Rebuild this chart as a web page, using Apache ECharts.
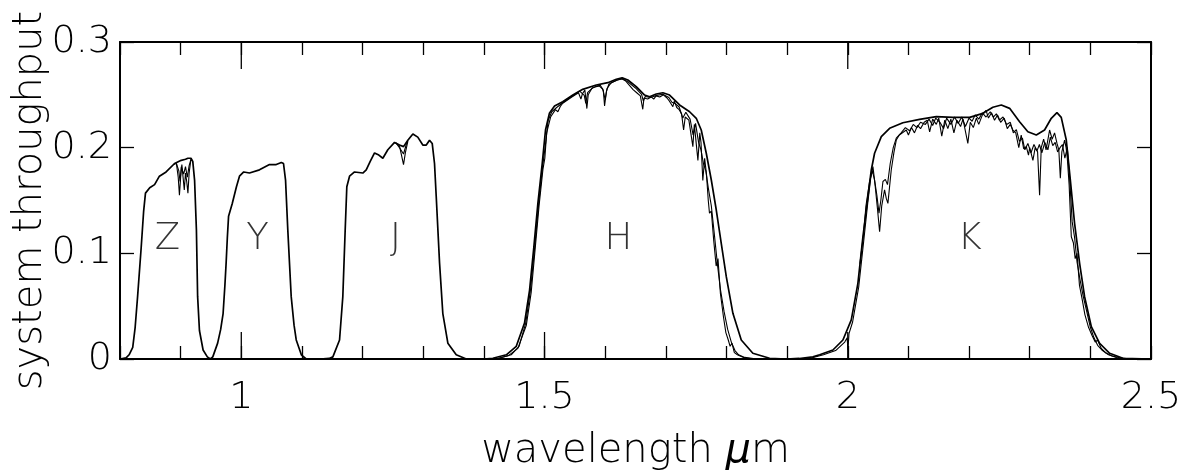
<!DOCTYPE html>
<html>
<head>
<meta charset="utf-8">
<script src="https://cdn.jsdelivr.net/npm/echarts@6/dist/echarts.min.js"></script>
<style>html,body{margin:0;padding:0;background:#fff}#c{width:1190px;height:470px}</style>
</head>
<body>
<div id="c"></div>
<script>
// ---- data (wavelength in micron, system throughput) ----
const smoothCurve = [
[0.80,0],[0.81,0.001],[0.815,0.004],[0.821,0.011],[0.825,0.03],[0.829,0.059],[0.835,0.106],[0.839,0.14],[0.842,0.157],[0.849,0.162],[0.857,0.165],[0.865,0.173],[0.876,0.177],[0.890,0.185],[0.901,0.188],[0.908,0.189],[0.912,0.190],[0.917,0.190],[0.920,0.187],[0.923,0.169],[0.926,0.122],[0.928,0.059],[0.931,0.027],[0.937,0.0085],[0.944,0.002],[0.949,0.0],
[0.953,0.002],[0.961,0.015],[0.966,0.028],[0.970,0.043],[0.973,0.07],[0.975,0.091],[0.977,0.115],[0.979,0.135],[0.985,0.147],[0.992,0.163],[0.997,0.173],[1.004,0.177],[1.0135,0.176],[1.030,0.179],[1.0465,0.184],[1.0576,0.184],[1.066,0.186],[1.0696,0.185],[1.073,0.169],[1.0767,0.122],[1.0823,0.059],[1.087,0.032],[1.0906,0.018],[1.099,0.004],[1.107,0.0],
[1.13,0.0],[1.145,0.0005],[1.151,0.002],[1.162,0.018],[1.1674,0.059],[1.1713,0.122],[1.174,0.163],[1.1785,0.173],[1.1867,0.177],[1.2004,0.176],[1.206,0.179],[1.2126,0.187],[1.2197,0.195],[1.2268,0.193],[1.2334,0.190],[1.2416,0.198],[1.2527,0.205],[1.2609,0.2025],[1.2675,0.201],[1.2746,0.207],[1.2829,0.213],[1.291,0.210],[1.2993,0.2025],[1.305,0.2025],[1.3104,0.207],[1.3148,0.204],[1.3186,0.185],[1.3214,0.154],[1.3269,0.091],[1.3323,0.043],[1.3406,0.015],[1.3544,0.004],[1.371,0.0],
[1.40,0.0],[1.4148,0.0007],[1.437,0.004],[1.4534,0.012],[1.467,0.034],[1.4753,0.065],[1.4824,0.106],[1.489,0.147],[1.4962,0.185],[1.5017,0.217],[1.508,0.2325],[1.5165,0.2394],[1.530,0.2435],[1.5467,0.2498],[1.563,0.2552],[1.5853,0.2593],[1.6044,0.2615],[1.6183,0.2647],[1.628,0.2662],[1.6374,0.264],[1.6512,0.2577],[1.665,0.2498],[1.6732,0.2482],[1.6842,0.2508],[1.6951,0.252],[1.7062,0.2498],[1.7227,0.2404],[1.7392,0.234],[1.7502,0.2278],[1.7584,0.2167],[1.7667,0.1947],[1.775,0.1694],[1.7832,0.141],[1.7914,0.1095],[1.7997,0.0779],[1.8106,0.0432],[1.8244,0.018],[1.8435,0.0054],[1.8711,0.0007],[1.8986,0.0],
[1.92,0.0005],[1.9425,0.002],[1.9536,0.004],[1.9755,0.0085],[1.992,0.018],[2.0058,0.037],[2.0167,0.0716],[2.025,0.1157],[2.0332,0.1536],[2.0388,0.1789],[2.0442,0.1947],[2.0553,0.2104],[2.069,0.2183],[2.0909,0.2236],[2.1184,0.2268],[2.146,0.2293],[2.1734,0.2287],[2.2009,0.2287],[2.2228,0.2325],[2.2393,0.2382],[2.2532,0.2404],[2.2669,0.2372],[2.2833,0.2246],[2.297,0.2151],[2.3109,0.212],[2.3245,0.2167],[2.3356,0.2278],[2.3449,0.2331],[2.352,0.2287],[2.3603,0.2072],[2.367,0.1694],[2.374,0.1284],[2.3823,0.0906],[2.3905,0.059],[2.4016,0.0306],[2.4153,0.0149],[2.4318,0.0054],[2.4537,0.0007],[2.50,0.0]
];

const noisyA_Z = [[0.888,0.184],[0.893,0.185],[0.896,0.172],[0.898,0.155],[0.900,0.172],[0.902,0.184],[0.904,0.172],[0.906,0.160],[0.908,0.176],[0.910,0.168],[0.912,0.157],[0.914,0.176],[0.917,0.189],[0.920,0.187]];
const noisyB_Z = [[0.893,0.185],[0.897,0.178],[0.899,0.168],[0.901,0.182],[0.905,0.175],[0.908,0.182],[0.911,0.172],[0.914,0.183],[0.917,0.189]];
const noisyA_J = [[1.255,0.2045],[1.2609,0.2015],[1.2645,0.192],[1.2675,0.184],[1.2705,0.195],[1.2746,0.206]];
const noisyB_J = [[1.255,0.2045],[1.262,0.199],[1.2675,0.194],[1.272,0.203],[1.2746,0.206]];

const noisyA_H = [
[1.42,0.0],[1.44,0.003],[1.456,0.010],[1.47,0.032],[1.478,0.063],[1.4845,0.104],[1.491,0.145],[1.4975,0.18],[1.5005,0.19],[1.5035,0.214],[1.510,0.229],[1.518,0.236],[1.522,0.234],[1.526,0.239],[1.530,0.242],[1.545,0.248],[1.556,0.252],[1.560,0.246],[1.5625,0.251],[1.5665,0.2545],[1.5698,0.237],[1.572,0.250],[1.578,0.256],[1.585,0.258],[1.592,0.259],[1.597,0.254],[1.599,0.2394],[1.602,0.253],[1.606,0.260],[1.612,0.262],[1.620,0.264],[1.628,0.265],[1.634,0.263],[1.640,0.259],[1.646,0.255],[1.652,0.252],[1.658,0.249],[1.662,0.2363],[1.664,0.247],[1.670,0.246],[1.676,0.248],[1.680,0.246],[1.684,0.249],[1.690,0.248],[1.696,0.250],[1.702,0.247],[1.706,0.244],[1.7116,0.2388],[1.714,0.244],[1.718,0.238],[1.722,0.236],[1.726,0.232],[1.7293,0.2167],[1.732,0.229],[1.738,0.226],[1.7446,0.201],[1.747,0.222],[1.7529,0.188],[1.756,0.214],[1.758,0.205],[1.761,0.169],[1.764,0.19],[1.767,0.175],[1.770,0.15],[1.772,0.138],[1.775,0.14],[1.779,0.112],[1.783,0.088],[1.786,0.095],[1.790,0.062],[1.795,0.04],[1.799,0.025],[1.803,0.018],[1.806,0.012],[1.809,0.015],[1.813,0.006],[1.818,0.004],[1.83,0.001],[1.85,0]
];
const noisyB_H = [
[1.42,0.0],[1.445,0.004],[1.458,0.012],[1.469,0.034],[1.477,0.066],[1.484,0.107],[1.4905,0.148],[1.497,0.183],[1.502,0.205],[1.506,0.226],[1.512,0.234],[1.52,0.238],[1.53,0.2425],[1.545,0.2485],[1.558,0.2535],[1.5655,0.2495],[1.568,0.242],[1.571,0.252],[1.580,0.257],[1.59,0.2585],[1.596,0.2555],[1.6,0.2455],[1.603,0.256],[1.61,0.2615],[1.62,0.264],[1.628,0.2655],[1.637,0.2625],[1.65,0.2565],[1.66,0.2505],[1.663,0.244],[1.666,0.2485],[1.675,0.2475],[1.685,0.2495],[1.695,0.2505],[1.705,0.2475],[1.71,0.243],[1.716,0.2415],[1.722,0.2385],[1.728,0.228],[1.733,0.2335],[1.74,0.227],[1.745,0.212],[1.749,0.223],[1.754,0.205],[1.758,0.198],[1.762,0.185],[1.766,0.178],[1.77,0.162],[1.775,0.145],[1.78,0.118],[1.785,0.09],[1.79,0.066],[1.796,0.045],[1.802,0.028],[1.808,0.016],[1.814,0.008],[1.82,0.004],[1.83,0.0015],[1.85,0]
];

const noisyA_K = [
[1.94,0.001],[1.96,0.004],[1.98,0.008],[1.995,0.016],[1.999,0.02],[2.0003,0.0085],[2.002,0.024],[2.008,0.035],[2.018,0.068],[2.026,0.11],[2.033,0.148],[2.038,0.172],[2.0415,0.182],[2.045,0.165],[2.049,0.142],[2.0525,0.1205],[2.056,0.145],[2.0607,0.16],[2.0635,0.152],[2.0662,0.1473],[2.0717,0.1789],[2.076,0.195],[2.08,0.2072],[2.085,0.212],[2.0965,0.2167],[2.1,0.212],[2.105,0.219],[2.11,0.214],[2.115,0.221],[2.12,0.218],[2.126,0.224],[2.131,0.226],[2.135,0.215],[2.14,0.227],[2.146,0.222],[2.15,0.228],[2.155,0.211],[2.16,0.226],[2.165,0.218],[2.17,0.227],[2.175,0.214],[2.18,0.226],[2.186,0.22],[2.19,0.227],[2.198,0.2041],[2.202,0.224],[2.207,0.219],[2.212,0.228],[2.216,0.222],[2.222,0.231],[2.228,0.2353],[2.232,0.228],[2.237,0.233],[2.242,0.226],[2.247,0.231],[2.252,0.224],[2.258,0.228],[2.263,0.218],[2.268,0.222],[2.2723,0.2167],[2.277,0.214],[2.282,0.2],[2.286,0.212],[2.29,0.199],[2.2944,0.201],[2.298,0.193],[2.3,0.2],[2.3053,0.188],[2.309,0.2],[2.313,0.196],[2.3163,0.155],[2.319,0.2],[2.323,0.208],[2.327,0.198],[2.3328,0.2167],[2.337,0.208],[2.341,0.214],[2.345,0.204],[2.348,0.198],[2.3505,0.171],[2.353,0.196],[2.3575,0.2072],[2.36,0.2],[2.362,0.19],[2.365,0.165],[2.3686,0.1157],[2.372,0.11],[2.375,0.095],[2.378,0.1],[2.382,0.07],[2.386,0.058],[2.391,0.042],[2.397,0.03],[2.403,0.022],[2.408,0.016],[2.412,0.018],[2.418,0.01],[2.425,0.006],[2.435,0.003],[2.45,0.001],[2.47,0]
];
const noisyB_K = [
[2.02,0.09],[2.026,0.118],[2.03,0.145],[2.036,0.168],[2.0405,0.178],[2.044,0.17],[2.048,0.155],[2.0515,0.138],[2.0545,0.15],[2.058,0.168],[2.062,0.17],[2.0655,0.165],[2.07,0.185],[2.075,0.2],[2.08,0.209],[2.088,0.214],[2.095,0.219],[2.102,0.216],[2.108,0.222],[2.114,0.219],[2.12,0.224],[2.128,0.222],[2.134,0.227],[2.14,0.221],[2.145,0.228],[2.152,0.224],[2.158,0.218],[2.163,0.228],[2.17,0.222],[2.176,0.229],[2.182,0.223],[2.188,0.229],[2.194,0.22],[2.2,0.228],[2.205,0.225],[2.21,0.231],[2.216,0.227],[2.222,0.233],[2.228,0.229],[2.235,0.234],[2.24,0.229],[2.245,0.232],[2.25,0.226],[2.256,0.229],[2.262,0.222],[2.268,0.224],[2.273,0.214],[2.278,0.217],[2.283,0.206],[2.288,0.209],[2.292,0.198],[2.297,0.204],[2.302,0.195],[2.307,0.203],[2.312,0.197],[2.316,0.203],[2.32,0.195],[2.325,0.205],[2.33,0.198],[2.334,0.21],[2.338,0.202],[2.342,0.205],[2.346,0.196],[2.35,0.2],[2.354,0.203],[2.358,0.19],[2.362,0.2],[2.366,0.17],[2.37,0.13],[2.374,0.115],[2.378,0.092],[2.383,0.075],[2.388,0.06],[2.394,0.045],[2.4,0.03],[2.406,0.02],[2.412,0.013],[2.42,0.008],[2.43,0.004],[2.445,0.001],[2.47,0]
];

const bandNames = ['Z','Y','J','H','K'];
const bandCenters = [0.878, 1.027, 1.254, 1.622, 2.201];
const bandLabelLevel = 0.113;
const xLabelValues = [1, 1.5, 2, 2.5];
const xMajorTicks = [1, 1.5, 2];
const yTickValues = [0, 0.1, 0.2, 0.3];

// ---- chart ----
const FONT = "'DejaVu Sans', sans-serif";
const chart = echarts.init(document.getElementById('c'), null, {renderer:'canvas'});
const tickStyle = {color:'#000', width:1.3};
const axisLineStyle = {color:'#000', width:2};
const fmt = v => String(+(+v).toFixed(2));
const X_MIN = 0.8, X_MAX = 2.5, Y_MIN = 0, Y_MAX = 0.3;
const MAJOR_TICK_PX = 27;

const curveList = [
  {d:smoothCurve, w:1.7},
  {d:noisyA_Z, w:1.1}, {d:noisyB_Z, w:1.1},
  {d:noisyA_J, w:1.1}, {d:noisyB_J, w:1.1},
  {d:noisyA_H, w:1.1}, {d:noisyB_H, w:1.1},
  {d:noisyA_K, w:1.1}, {d:noisyB_K, w:1.1}
];
const series = curveList.map(c => ({
  type:'line', data:c.d, showSymbol:false, symbol:'none',
  lineStyle:{color:'#000', width:c.w}, silent:true, animation:false, clip:true
}));
series.push({
  type:'scatter', symbolSize:0, silent:true, animation:false,
  data: bandNames.map((n,i)=>({name:n, value:[bandCenters[i], bandLabelLevel]})),
  label:{show:true, position:'inside', formatter:p=>p.name, color:'#000', fontSize:37, fontFamily:FONT, fontWeight:300}
});

const option = {
  backgroundColor:'#fff',
  animation:false,
  grid:{left:120, right:39, top:42, bottom:111, containLabel:false, outerBoundsMode:'none'},
  xAxis:[
    { type:'value', position:'bottom', min:X_MIN, max:X_MAX, interval:0.1,
      axisLine:{show:true, onZero:false, lineStyle:axisLineStyle},
      axisTick:{show:true, inside:true, length:13, lineStyle:tickStyle},
      axisLabel:{show:true, customValues:xLabelValues, formatter:fmt, color:'#000', fontSize:38, fontFamily:FONT, fontWeight:300, margin:20},
      splitLine:{show:false},
      name:'wavelength {i|μ}m', nameLocation:'middle', nameGap:73, nameMoveOverlap:false,
      nameTextStyle:{color:'#000', fontSize:40, fontFamily:FONT, fontWeight:300,
        rich:{i:{fontStyle:'italic', fontSize:40, fontFamily:FONT, color:'#000', fontWeight:300}}}
    },
    { type:'value', position:'top', min:X_MIN, max:X_MAX, interval:0.1,
      axisLine:{show:true, onZero:false, lineStyle:axisLineStyle},
      axisTick:{show:true, inside:true, length:13, lineStyle:tickStyle},
      axisLabel:{show:false}, splitLine:{show:false}
    }
  ],
  yAxis:[
    { type:'value', position:'left', min:Y_MIN, max:Y_MAX, interval:0.1,
      axisLine:{show:true, onZero:false, lineStyle:axisLineStyle},
      axisTick:{show:true, inside:true, length:14, lineStyle:tickStyle},
      axisLabel:{show:true, customValues:yTickValues, formatter:fmt, color:'#000', fontSize:38, fontFamily:FONT, fontWeight:300, margin:8},
      splitLine:{show:false},
      name:'system throughput', nameLocation:'middle', nameGap:69, nameMoveOverlap:false,
      nameTextStyle:{color:'#000', fontSize:40, fontFamily:FONT, fontWeight:300}
    },
    { type:'value', position:'right', min:Y_MIN, max:Y_MAX, interval:0.1,
      axisLine:{show:true, onZero:false, lineStyle:axisLineStyle},
      axisTick:{show:true, inside:true, length:14, lineStyle:tickStyle},
      axisLabel:{show:false}, splitLine:{show:false}
    }
  ],
  series: series
};
chart.setOption(option);

// Long major x ticks (top and bottom). Tick length in data units comes from the axis scale.
try {
  const finder = {xAxisIndex:0, yAxisIndex:0};
  const pyBottom = chart.convertToPixel(finder, [1, Y_MIN])[1];
  const pyTop = chart.convertToPixel(finder, [1, Y_MAX])[1];
  const tickLenVal = (Y_MAX - Y_MIN) * MAJOR_TICK_PX / (pyBottom - pyTop);
  if (isFinite(tickLenVal) && tickLenVal > 0) {
    const tickSeries = [];
    xMajorTicks.forEach(v => {
      tickSeries.push({type:'line', data:[[v, Y_MIN], [v, Y_MIN + tickLenVal]], showSymbol:false, clip:false,
        lineStyle:{color:'#000', width:1.3}});
      tickSeries.push({type:'line', data:[[v, Y_MAX], [v, Y_MAX - tickLenVal]], showSymbol:false, clip:false,
        lineStyle:{color:'#000', width:1.3}});
    });
    chart.setOption({series: series.concat(tickSeries)});
  }
} catch (e) { /* keep the base chart */ }
</script>
</body>
</html>
